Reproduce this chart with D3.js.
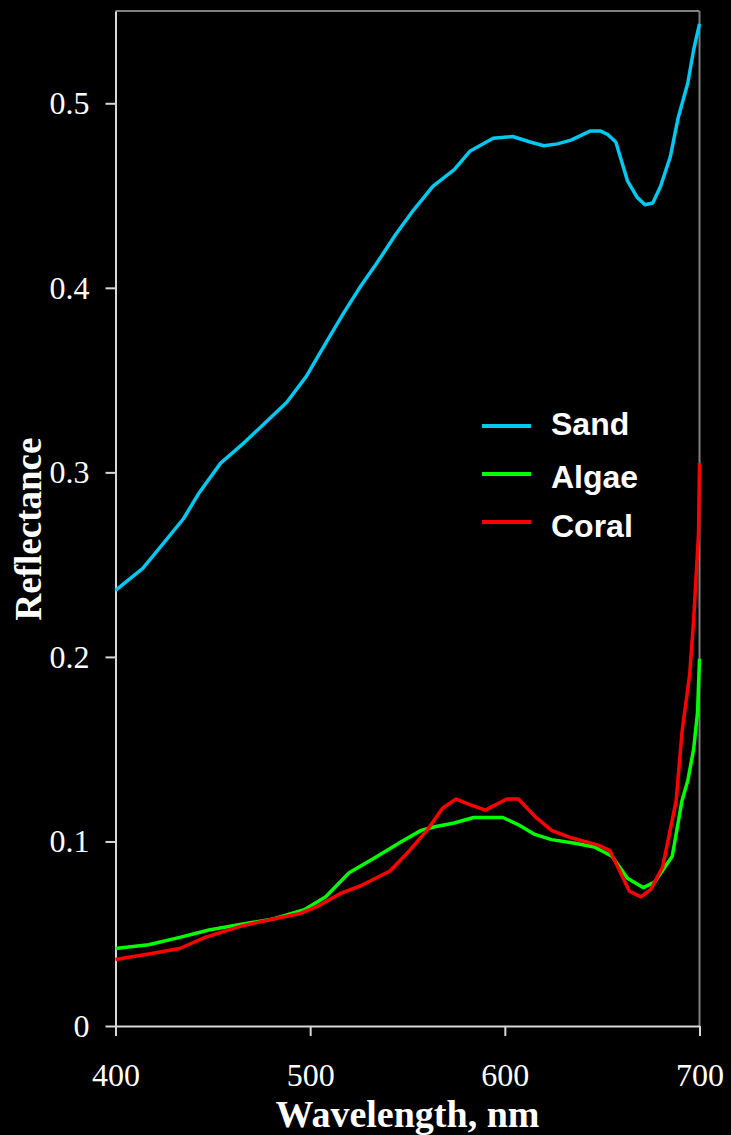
<html>
<head>
<script src="https://d3js.org/d3.v7.min.js"></script>
<style>
body { margin: 0; background: #000; }
svg { display: block; }
</style>
</head>
<body>
<svg width="731" height="1135"></svg>
<script>
// wavelength (nm) / reflectance pairs
var sandWl  = [400, 414, 425, 435, 443, 454, 466, 478, 488, 498, 508, 517, 526, 534, 544, 553, 563, 574, 582, 594, 604, 613, 620, 627, 634, 644, 649, 653, 657, 663, 668, 672, 676, 680, 685, 689, 694, 697, 700];
var sandVal = [0.236, 0.248, 0.262, 0.275, 0.289, 0.305, 0.316, 0.328, 0.338, 0.352, 0.370, 0.386, 0.401, 0.413, 0.429, 0.442, 0.455, 0.464, 0.474, 0.481, 0.482, 0.479, 0.477, 0.478, 0.480, 0.485, 0.485, 0.483, 0.479, 0.458, 0.449, 0.445, 0.446, 0.455, 0.471, 0.492, 0.511, 0.529, 0.543];

var algaeWl  = [400, 417, 433, 448, 464, 481, 497, 508, 520, 533, 547, 557, 564, 574, 584, 599, 607, 615, 624, 636, 646, 655, 663, 671, 677, 686, 691, 694, 697, 699, 700];
var algaeVal = [0.042, 0.044, 0.048, 0.052, 0.055, 0.058, 0.063, 0.070, 0.083, 0.091, 0.100, 0.106, 0.108, 0.110, 0.113, 0.113, 0.109, 0.104, 0.101, 0.099, 0.097, 0.092, 0.080, 0.075, 0.078, 0.092, 0.122, 0.133, 0.150, 0.170, 0.199];

var coralWl  = [400, 417, 433, 446, 464, 481, 495, 504, 516, 526, 541, 551, 560, 568, 575, 582, 590, 601, 607, 616, 624, 634, 648, 654, 659, 664, 670, 675, 681, 688, 691, 695, 697, 699.5, 700];
var coralVal = [0.036, 0.039, 0.042, 0.048, 0.054, 0.058, 0.061, 0.065, 0.072, 0.076, 0.084, 0.095, 0.106, 0.118, 0.123, 0.120, 0.117, 0.123, 0.123, 0.113, 0.106, 0.102, 0.098, 0.095, 0.084, 0.073, 0.070, 0.074, 0.086, 0.122, 0.159, 0.191, 0.220, 0.267, 0.305];

var seriesNames  = ["Sand", "Algae", "Coral"];
var seriesColors = ["#00c8f0", "#00ff00", "#ff0000"];
var xTicks = [400, 500, 600, 700];
var yTicks = [0, 0.1, 0.2, 0.3, 0.4, 0.5];

var svg = d3.select("svg");
var plotLeft = 115.5, plotRight = 699.5, plotTop = 11, plotBottom = 1026;

var x = d3.scaleLinear().domain([400, 700]).range([plotLeft, plotRight]);
var y = d3.scaleLinear().domain([0, 0.55]).range([plotBottom, plotTop]);

// frame: top and right edges
svg.append("line").attr("x1", plotLeft).attr("x2", plotRight).attr("y1", plotTop).attr("y2", plotTop)
   .attr("stroke", "#808080").attr("stroke-width", 2);
svg.append("line").attr("x1", plotRight).attr("x2", plotRight).attr("y1", plotTop).attr("y2", plotBottom)
   .attr("stroke", "#808080").attr("stroke-width", 2);

var yAxis = svg.append("g")
   .attr("transform", "translate(" + plotLeft + ",0)")
   .call(d3.axisLeft(y).tickValues(yTicks).tickSize(10).tickSizeOuter(0).tickPadding(16)
         .tickFormat(function(d) { return d === 0 ? "0" : d3.format(".1f")(d); }));

var xAxis = svg.append("g")
   .attr("transform", "translate(0," + plotBottom + ")")
   .call(d3.axisBottom(x).tickValues(xTicks).tickSize(10).tickSizeOuter(0).tickPadding(27)
         .tickFormat(d3.format("d")));

[xAxis, yAxis].forEach(function(a) {
  a.selectAll("path, line").attr("stroke", "#d8d8d8").attr("stroke-width", 2);
  a.selectAll("text").attr("fill", "#fff")
   .style("font-family", "'Liberation Serif', 'Times New Roman', serif").style("font-size", "32px");
});

svg.append("text")
   .attr("x", (plotLeft + plotRight) / 2).attr("y", 1127)
   .attr("text-anchor", "middle").attr("fill", "#fff")
   .style("font-family", "'Liberation Serif', serif").style("font-weight", "bold").style("font-size", "38px")
   .text("Wavelength, nm");

svg.append("text")
   .attr("transform", "translate(41,529) rotate(-90)")
   .attr("text-anchor", "middle").attr("fill", "#fff")
   .style("font-family", "'Liberation Serif', serif").style("font-weight", "bold").style("font-size", "37px")
   .text("Reflectance");

var line = d3.line()
   .x(function(d) { return x(d[0]); })
   .y(function(d) { return y(d[1]); });

var series = [d3.zip(sandWl, sandVal), d3.zip(algaeWl, algaeVal), d3.zip(coralWl, coralVal)];

svg.append("g").selectAll("path")
   .data(series)
   .enter()
   .append("path")
   .attr("d", line)
   .attr("fill", "none")
   .attr("stroke", function(d, i) { return seriesColors[i]; })
   .attr("stroke-width", 3.5)
   .attr("stroke-linejoin", "round");

// legend
var legend = svg.append("g").selectAll("g")
   .data(seriesNames)
   .enter()
   .append("g")
   .attr("transform", function(d, i) { return "translate(0," + [426, 474, 522][i] + ")"; });

legend.append("line")
   .attr("x1", 482).attr("x2", 531)
   .attr("stroke", function(d, i) { return seriesColors[i]; })
   .attr("stroke-width", 4);

legend.append("text")
   .attr("x", 551).attr("y", function(d, i) { return [9, 14, 15][i]; })
   .attr("fill", "#fff")
   .style("font-family", "'Liberation Sans', Arial, sans-serif").style("font-weight", "bold").style("font-size", "32px")
   .text(function(d) { return d; });
</script>
</body>
</html>
